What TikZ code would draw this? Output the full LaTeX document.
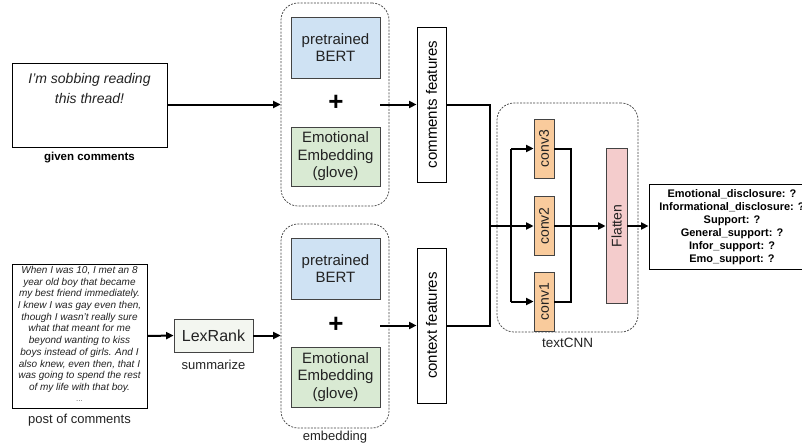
\documentclass[tikz,border=0pt]{standalone}
\usepackage{fontspec}
\usepackage{graphicx}
\setmainfont{Liberation Sans}
\usetikzlibrary{arrows.meta,calc}
\definecolor{bertblue}{HTML}{CFE2F3}
\definecolor{emogreen}{HTML}{D9EAD3}
\definecolor{convorange}{HTML}{F9CB9C}
\definecolor{flatpink}{HTML}{F4CCCC}
\definecolor{lexfill}{HTML}{F3F6F0}
\definecolor{edgegray}{HTML}{434343}
\definecolor{inktext}{HTML}{222222}
\newcommand{\upright}[1]{\rotatebox{90}{#1}}
\tikzset{
  box/.style={draw=edgegray, line width=0.8pt, inner sep=0pt, align=center, text=inktext},
  plainbox/.style={draw=black, line width=0.9pt, inner sep=0pt, align=center},
  frame/.style={draw=black!75, dash pattern=on 2pt off 1.3pt, line width=0.7pt,
                rounded corners=17pt, inner sep=0pt},
  flow/.style={line width=2pt, -{Triangle[length=7.5pt,width=7pt]}},
  wire/.style={line width=2pt},
  big/.style={font=\fontsize{15}{17.5}\selectfont},
  side/.style={font=\fontsize{15}{17}\selectfont},
  cnn/.style={font=\fontsize{14}{16}\selectfont},
  lbl/.style={font=\fontsize{13}{15}\selectfont, inner sep=0pt, text=inktext},
  plussign/.style={font=\fontsize{26}{26}\bfseries\selectfont, inner sep=0pt},
}
\begin{document}
\begin{tikzpicture}[x=1pt,y=-1pt]
\useasboundingbox (0,0) rectangle (802,447);

% ---- inputs ----
\node[plainbox, minimum width=155pt, minimum height=84pt] (given) at (89.5,105) {};
\node[font=\fontsize{14}{20}\selectfont\itshape, align=center, inner sep=0pt, text=inktext] (gtxt) at (89.5,88)
  {I’m sobbing reading\\this thread!};
\node[font=\fontsize{11.5}{13}\bfseries\selectfont, inner sep=0pt] (glab) at (89.5,158) {given comments};

\node[plainbox, minimum width=135pt, minimum height=144pt] (post) at (79.5,336) {};
\node[font=\fontsize{10}{11.7}\itshape\selectfont, align=center, inner sep=0pt, anchor=north, text=inktext] (ptxt) at (79.5,266)
  {When I was 10, I met an 8\\year old boy that became\\my best friend immediately.\\I knew I was gay even then,\\though I wasn't really sure\\what that meant for me\\beyond wanting to kiss\\boys instead of girls. And I\\also knew, even then, that I\\was going to spend the rest\\of my life with that boy.};
\node[font=\fontsize{8}{8}\selectfont, inner sep=0pt, text=black!60] (pdots) at (79.5,401) {...};
\node[lbl] (plab) at (79.5,420) {post of comments};

\node[box, fill=lexfill, minimum width=79pt, minimum height=33pt, font=\fontsize{16}{18}\selectfont] (lex) at (213.5,335.5) {LexRank};
\node[lbl] (slab) at (213.5,365) {summarize};

% ---- embedding frames ----
\node[frame, minimum width=108pt, minimum height=203pt] (emb1) at (335,104.5) {};
\node[frame, minimum width=108pt, minimum height=204pt] (emb2) at (335,326) {};
\node[lbl] (elab) at (335,437) {embedding};

\node[box, fill=bertblue, minimum width=89pt, minimum height=61pt, big] (bert1) at (335.5,47.5) {pretrained\\BERT};
\node[plussign] (plus1) at (336,103) {+};
\node[box, fill=emogreen, minimum width=89pt, minimum height=59pt, big] (emo1) at (335.5,156.5) {Emotional\\Embedding\\(glove)};

\node[box, fill=bertblue, minimum width=89pt, minimum height=61pt, big] (bert2) at (335.5,268.5) {pretrained\\BERT};
\node[plussign] (plus2) at (336,325) {+};
\node[box, fill=emogreen, minimum width=89pt, minimum height=60pt, big] (emo2) at (335.5,377) {Emotional\\Embedding\\(glove)};

% ---- feature columns ----
\node[plainbox, minimum width=29pt, minimum height=155pt, side] (cf) at (431.5,104.5) {\upright{comments features}};
\node[plainbox, minimum width=29pt, minimum height=155pt, side] (ctx) at (431.5,325.5) {\upright{context features}};

% ---- textCNN ----
\node[frame, minimum width=141pt, minimum height=229pt] (cnn) at (567.5,217.5) {};
\node[lbl, font=\fontsize{13.5}{15}\selectfont] (clab) at (567.5,343) {textCNN};

\node[box, fill=convorange, minimum width=20pt, minimum height=59pt, cnn] (conv3) at (544,148.5) {\upright{conv3}};
\node[box, fill=convorange, minimum width=20pt, minimum height=59pt, cnn] (conv2) at (544,226) {\upright{conv2}};
\node[box, fill=convorange, minimum width=20pt, minimum height=59pt, cnn] (conv1) at (544,301.5) {\upright{conv1}};
\node[box, fill=flatpink, minimum width=21pt, minimum height=155pt, cnn] (flat) at (616.5,226) {\upright{Flatten}};

% ---- output ----
\node[plainbox, minimum width=166pt, minimum height=85pt, font=\fontsize{11}{13}\bfseries\selectfont] (out) at (732,227)
  {Emotional\_disclosure: ?\\Informational\_disclosure: ?\\Support: ?\\General\_support: ?\\Infor\_support: ?\\Emo\_support: ?};

% ---- connectors ----
\draw[flow] (given.east |- emb1.west) -- (emb1.west);
\draw[flow] (post.east) -- (lex.west);
\draw[flow] (lex.east) -- (lex.east -| emb2.west);
\draw[flow] (bert1.east |- cf.west) -- (cf.west);
\draw[flow] (bert2.east |- ctx.west) -- (ctx.west);

\coordinate (join) at (490,226);
\coordinate (split) at (511,226);
\coordinate (merge) at (571,226);
\draw[wire] (cf.east) -| (join) |- (ctx.east);
\draw[flow] (join) -- (conv2.west);
\draw[wire] (split |- conv3.west) -- (split |- conv1.west);
\draw[flow] (split |- conv3.west) -- (conv3.west);
\draw[flow] (split |- conv1.west) -- (conv1.west);
\draw[wire] (conv3.east) -| (merge) |- (conv1.east);
\draw[flow] (conv2.east) -- (flat.west);
\draw[flow] (flat.east) -- (flat.east -| out.west);
\end{tikzpicture}
\end{document}
